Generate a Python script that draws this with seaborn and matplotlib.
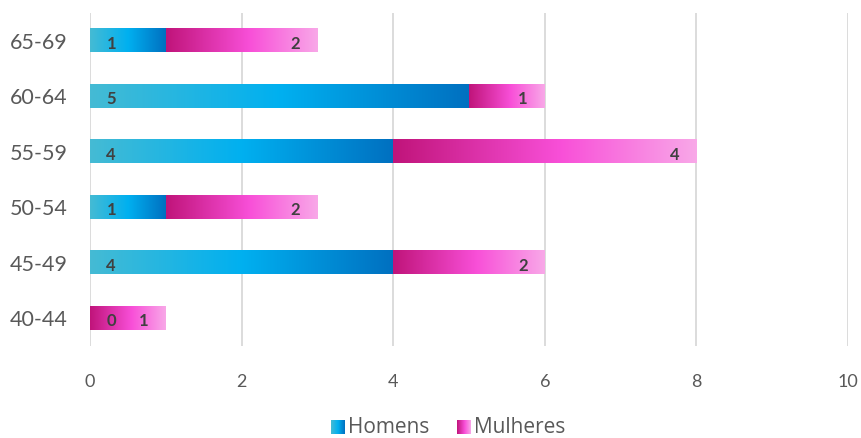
import numpy as np
import pandas as pd
import matplotlib
matplotlib.use("Agg")
import matplotlib.pyplot as plt
import seaborn as sns
from matplotlib.colors import LinearSegmentedColormap
from matplotlib.image import BboxImage
from matplotlib.transforms import Bbox, TransformedBbox
from matplotlib.legend_handler import HandlerBase
from matplotlib.patches import Patch

# Age groups, listed top to bottom
faixas = ["65-69", "60-64", "55-59", "50-54", "45-49", "40-44"]
homens = [1, 5, 4, 1, 4, 0]
mulheres = [2, 1, 4, 2, 2, 1]
x_ticks = [0, 2, 4, 6, 8, 10]

df = pd.DataFrame({"faixa": faixas, "Homens": homens, "Mulheres": mulheres})
df["Total"] = df["Homens"] + df["Mulheres"]

cmap_h = LinearSegmentedColormap.from_list(
    "homens", [(0.0, "#45bbd4"), (0.5, "#00b0f0"), (1.0, "#0070c0")])
cmap_m = LinearSegmentedColormap.from_list(
    "mulheres", [(0.0, "#c0147a"), (0.55, "#f84fd8"), (1.0, "#f9a8e8")])
grad = np.linspace(0, 1, 256).reshape(1, -1)

sns.set_theme(style="white")
plt.rcParams["font.family"] = ["Lato", "DejaVu Sans"]

fig = plt.figure(figsize=(8.62, 4.38), dpi=100)
ax = fig.add_axes([0.1044, 0.210, 0.8794, 0.7603])

bw = 0.42
sns.barplot(data=df, x="Total", y="faixa", orient="h", color="#f84fd8",
            width=bw, ax=ax, zorder=3)
n = len(df)
sns.barplot(data=df, x="Homens", y="faixa", orient="h", color="#00b0f0",
            width=bw, ax=ax, zorder=3)

ax.set_xlim(0, 10)
ax.set_ylim(n - 0.5, -0.5)
patches = list(ax.patches)
total_patches = patches[:n]
homem_patches = patches[n:2 * n]

# Replace the flat fills with horizontal gradients per segment
for i in range(n):
    tp, hp = total_patches[i], homem_patches[i]
    y0, hgt = tp.get_y(), tp.get_height()
    h_end = hp.get_x() + hp.get_width()
    t_end = tp.get_x() + tp.get_width()
    if hp.get_width() > 0:
        ax.imshow(grad, cmap=cmap_h, aspect="auto", interpolation="bilinear",
                  extent=[hp.get_x(), h_end, y0 + hgt, y0], zorder=3)
    if t_end > h_end:
        ax.imshow(grad, cmap=cmap_m, aspect="auto", interpolation="bilinear",
                  extent=[h_end, t_end, y0 + hgt, y0], zorder=3)
    tp.set_visible(False)
    hp.set_visible(False)

ax.set_xlim(0, 10)
ax.set_ylim(n - 0.5, -0.5)

# Value labels: men at the bar base, women near the segment end
lab_kw = dict(ha="center", va="center", fontsize=12, fontweight="bold",
              color="#404040", zorder=5)
for i in range(n):
    tp = total_patches[i]
    yc = tp.get_y() + tp.get_height() / 2 + 0.05
    ax.text(0.28, yc, f"{homens[i]}", **lab_kw)
    ax.text(df["Total"][i] - 0.29, yc, f"{mulheres[i]}", **lab_kw)

ax.set_xticks(x_ticks)
ax.set_xticklabels([str(t) for t in x_ticks])
ax.grid(axis="x", color="#d9d9d9", linewidth=1.3, zorder=0)
ax.grid(axis="y", visible=False)
ax.set_axisbelow(True)
for s in ax.spines.values():
    s.set_visible(False)
ax.set_xlabel("")
ax.set_ylabel("")
ax.tick_params(axis="x", length=0, pad=20, labelsize=13, labelcolor="#595959")
ax.tick_params(axis="y", length=0, pad=16, labelsize=15.5, labelcolor="#595959")


class GradientHandler(HandlerBase):
    def __init__(self, cmap):
        super().__init__()
        self.cmap = cmap

    def create_artists(self, legend, orig_handle, xdescent, ydescent,
                       width, height, fontsize, trans):
        side = min(width, height) * 0.85
        bb = Bbox.from_bounds(-xdescent + width - side, -ydescent, side, side)
        img = BboxImage(TransformedBbox(bb, trans), cmap=self.cmap,
                        interpolation="bilinear")
        img.set_data(grad)
        return [img]


h_handle = Patch(label="Homens")
m_handle = Patch(label="Mulheres")
fig.legend(handles=[h_handle, m_handle], labels=["Homens", "Mulheres"],
           handler_map={h_handle: GradientHandler(cmap_h),
                        m_handle: GradientHandler(cmap_m)},
           loc="center", bbox_to_anchor=(0.518, 0.023), ncol=2, frameon=False,
           prop={"family": ["Open Sans", "DejaVu Sans"], "size": 15},
           labelcolor="#595959", handlelength=0.8,
           handleheight=0.8, handletextpad=0.15, columnspacing=1.2)

fig.savefig("out.png", dpi=100)
